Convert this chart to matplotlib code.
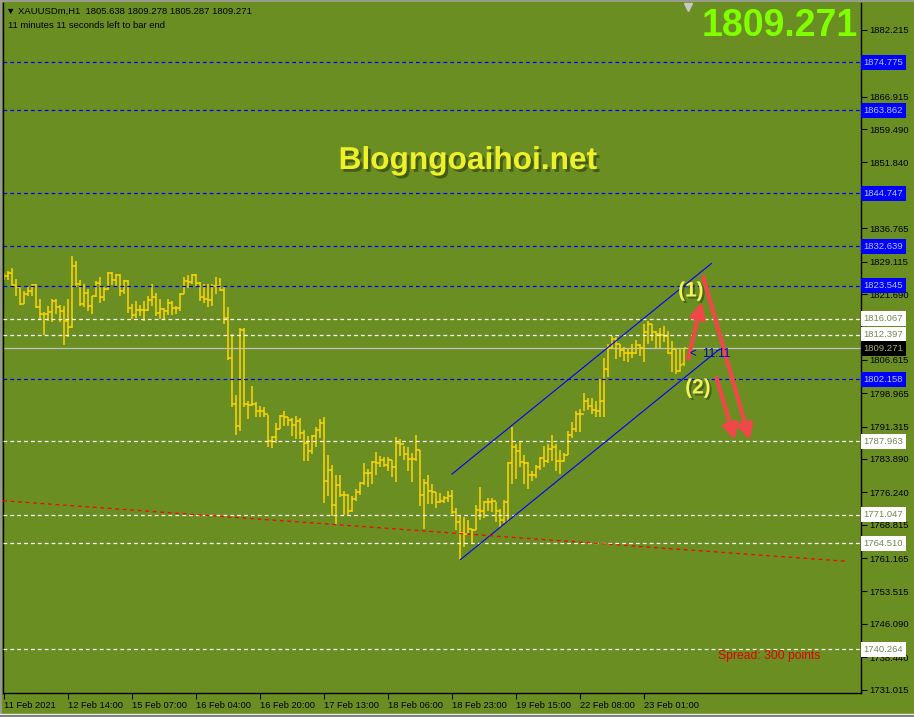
import numpy as np
import matplotlib
matplotlib.use("Agg")
import matplotlib.pyplot as plt
import matplotlib.patheffects as pe
from matplotlib.lines import Line2D
from matplotlib.transforms import blended_transform_factory

plt.rcParams['font.family'] = ['Liberation Sans', 'DejaVu Sans']

# H1 bars, XAUUSD, 11 Feb 2021 .. 23 Feb 2021
opens = [
    1825.4, 1825.8, 1826.5, 1823.7, 1823.3, 1819.4, 1821.6, 1822.4, 1823.7, 1818.6,
    1817.1, 1817.1, 1817.6, 1820.1, 1818.6, 1817.7, 1815.5, 1814.2, 1828.1, 1823.9,
    1819.4, 1822.0, 1819.0, 1821.3, 1824.3, 1820.9, 1822.8, 1826.6, 1824.8, 1826.1,
    1822.3, 1824.7, 1818.4, 1816.9, 1818.0, 1818.0, 1818.0, 1820.3, 1821.0, 1817.4,
    1818.2, 1817.8, 1819.7, 1818.4, 1818.4, 1821.6, 1824.7, 1824.5, 1826.1, 1824.3,
    1820.9, 1820.5, 1820.3, 1823.5, 1823.5, 1822.6, 1816.3, 1807.1, 1796.5, 1791.4,
    1813.4, 1796.5, 1796.3, 1796.5, 1794.9, 1794.9, 1794.2, 1788.1, 1789.0, 1790.7,
    1793.8, 1793.4, 1792.8, 1791.7, 1792.6, 1789.8, 1787.6, 1785.8, 1789.2, 1790.5,
    1792.1, 1778.9, 1781.4, 1773.4, 1777.8, 1775.6, 1775.7, 1772.0, 1774.6, 1776.2,
    1778.3, 1780.6, 1780.6, 1783.1, 1782.9, 1783.7, 1782.4, 1783.7, 1782.0, 1787.5,
    1787.2, 1785.0, 1783.9, 1783.9, 1785.9, 1775.7, 1778.3, 1776.5, 1776.3, 1774.0,
    1774.3, 1775.0, 1775.3, 1771.7, 1769.4, 1766.9, 1766.7, 1767.9, 1767.6, 1772.2,
    1772.0, 1774.0, 1774.1, 1774.3, 1772.0, 1769.8, 1774.0, 1782.9, 1786.7, 1785.8,
    1783.1, 1782.9, 1780.2, 1780.1, 1782.0, 1784.1, 1783.4, 1786.2, 1786.6, 1783.5,
    1783.5, 1784.7, 1789.4, 1790.7, 1794.3, 1794.3, 1797.2, 1796.1, 1795.1, 1794.9,
    1797.2, 1804.5, 1809.3, 1811.3, 1810.2, 1808.8, 1808.1, 1808.1, 1808.1, 1810.0,
    1809.3, 1812.9, 1814.9, 1812.9, 1812.5, 1812.3, 1812.1, 1808.1, 1809.0, 1804.1,
    1805.638]
highs = [
    1826.5, 1827.0, 1827.7, 1825.1, 1823.3, 1822.4, 1823.3, 1824.1, 1823.9, 1820.5,
    1817.6, 1819.0, 1820.5, 1820.5, 1819.2, 1819.0, 1820.5, 1830.4, 1829.3, 1824.8,
    1823.9, 1822.8, 1821.3, 1824.7, 1825.6, 1823.2, 1826.7, 1826.7, 1826.2, 1826.2,
    1824.8, 1824.8, 1819.5, 1820.1, 1819.2, 1820.0, 1821.3, 1823.9, 1822.0, 1820.5,
    1818.4, 1820.5, 1820.1, 1819.0, 1822.0, 1825.5, 1826.1, 1826.2, 1826.2, 1824.5,
    1823.9, 1823.9, 1823.9, 1825.5, 1825.3, 1823.3, 1818.6, 1812.6, 1798.6, 1814.0,
    1814.0, 1797.2, 1800.7, 1797.0, 1796.1, 1795.7, 1794.0, 1789.2, 1792.2, 1794.0,
    1794.9, 1793.6, 1793.3, 1793.8, 1793.3, 1790.5, 1789.2, 1789.4, 1791.1, 1793.0,
    1793.4, 1784.9, 1782.4, 1780.1, 1780.1, 1776.6, 1775.9, 1775.3, 1777.0, 1778.5,
    1782.9, 1781.6, 1783.5, 1785.4, 1784.6, 1784.3, 1784.4, 1783.7, 1788.8, 1788.5,
    1786.9, 1786.6, 1785.2, 1789.4, 1785.9, 1779.3, 1780.1, 1778.2, 1776.3, 1776.0,
    1775.5, 1776.6, 1776.8, 1772.7, 1770.9, 1770.5, 1769.8, 1767.9, 1773.4, 1777.4,
    1774.3, 1774.9, 1774.9, 1774.0, 1772.4, 1774.5, 1783.1, 1791.3, 1787.3, 1787.7,
    1784.9, 1783.1, 1781.2, 1782.6, 1784.3, 1786.9, 1787.3, 1789.4, 1787.3, 1785.9,
    1785.2, 1790.2, 1792.3, 1794.9, 1795.3, 1799.1, 1797.8, 1797.8, 1797.2, 1802.2,
    1807.1, 1810.2, 1812.1, 1811.9, 1810.3, 1809.6, 1809.4, 1810.2, 1811.1, 1810.3,
    1814.8, 1815.5, 1814.9, 1813.1, 1814.0, 1814.4, 1813.2, 1811.0, 1809.1, 1809.1,
    1809.278]
lows = [
    1824.8, 1824.8, 1823.5, 1821.3, 1819.1, 1819.4, 1821.3, 1821.3, 1818.4, 1815.9,
    1812.3, 1815.4, 1815.2, 1817.1, 1815.2, 1810.1, 1811.9, 1813.9, 1823.2, 1819.0,
    1818.6, 1817.8, 1817.1, 1820.9, 1819.7, 1820.1, 1822.7, 1823.7, 1823.3, 1821.3,
    1821.6, 1817.4, 1815.9, 1816.3, 1816.7, 1815.5, 1817.8, 1819.0, 1816.7, 1815.9,
    1815.9, 1816.9, 1816.9, 1817.1, 1817.8, 1821.6, 1823.0, 1823.9, 1823.5, 1820.1,
    1819.7, 1818.6, 1819.0, 1821.6, 1822.4, 1814.8, 1806.5, 1795.9, 1789.3, 1790.4,
    1795.9, 1793.0, 1796.1, 1793.4, 1793.6, 1793.4, 1786.6, 1786.4, 1787.5, 1790.7,
    1791.5, 1791.5, 1789.1, 1788.5, 1788.5, 1783.5, 1783.3, 1785.0, 1786.6, 1788.6,
    1773.7, 1775.3, 1770.7, 1769.0, 1775.1, 1771.1, 1771.1, 1771.7, 1774.3, 1775.7,
    1777.8, 1777.4, 1778.2, 1780.1, 1782.0, 1782.1, 1781.2, 1779.7, 1778.5, 1784.6,
    1783.7, 1781.2, 1778.5, 1783.5, 1773.2, 1767.9, 1773.6, 1773.6, 1772.7, 1773.7,
    1773.7, 1774.0, 1771.3, 1767.5, 1760.6, 1763.7, 1766.9, 1764.4, 1767.5, 1769.8,
    1770.4, 1771.9, 1771.7, 1769.4, 1768.2, 1769.2, 1769.4, 1778.2, 1779.3, 1782.0,
    1778.2, 1777.0, 1778.9, 1779.5, 1781.4, 1782.1, 1782.9, 1783.5, 1781.2, 1780.4,
    1783.1, 1784.7, 1788.7, 1790.0, 1790.0, 1794.9, 1795.1, 1794.3, 1793.4, 1793.4,
    1793.4, 1802.6, 1809.0, 1806.8, 1807.3, 1806.4, 1806.0, 1807.1, 1807.9, 1807.5,
    1806.0, 1810.3, 1811.0, 1809.4, 1809.4, 1810.6, 1807.9, 1803.7, 1803.3, 1803.7,
    1805.287]
closes = [
    1825.8, 1826.5, 1823.7, 1823.3, 1819.4, 1821.6, 1822.4, 1823.7, 1818.6, 1817.1,
    1817.1, 1817.6, 1820.1, 1818.6, 1817.7, 1815.5, 1814.2, 1828.1, 1823.9, 1819.4,
    1822.0, 1819.0, 1821.3, 1824.3, 1820.9, 1822.8, 1826.6, 1824.8, 1826.1, 1822.3,
    1824.7, 1818.4, 1816.9, 1818.0, 1818.0, 1818.0, 1820.3, 1821.0, 1817.4, 1818.2,
    1817.8, 1819.7, 1818.4, 1818.4, 1821.6, 1824.7, 1824.5, 1826.1, 1824.3, 1820.9,
    1820.5, 1820.3, 1823.5, 1823.5, 1822.6, 1816.3, 1807.1, 1796.5, 1791.4, 1813.4,
    1796.5, 1796.3, 1796.5, 1794.9, 1794.9, 1794.2, 1788.1, 1789.0, 1790.7, 1793.8,
    1793.4, 1792.8, 1791.7, 1792.6, 1789.8, 1787.6, 1785.8, 1789.2, 1790.5, 1792.1,
    1778.9, 1781.4, 1773.4, 1777.8, 1775.6, 1775.7, 1772.0, 1774.6, 1776.2, 1778.3,
    1780.6, 1780.6, 1783.1, 1782.9, 1783.7, 1782.4, 1783.7, 1782.0, 1787.5, 1787.2,
    1785.0, 1783.9, 1783.9, 1785.9, 1775.7, 1778.3, 1776.5, 1776.3, 1774.0, 1774.3,
    1775.0, 1775.3, 1771.7, 1769.4, 1766.9, 1766.7, 1767.9, 1767.6, 1772.2, 1772.0,
    1774.0, 1774.1, 1774.3, 1772.0, 1769.8, 1774.0, 1782.9, 1786.7, 1785.8, 1783.1,
    1782.9, 1780.2, 1780.1, 1782.0, 1784.1, 1783.4, 1786.2, 1786.6, 1783.5, 1783.5,
    1784.7, 1789.4, 1790.7, 1794.3, 1794.3, 1797.2, 1796.1, 1795.1, 1794.9, 1797.2,
    1804.5, 1809.3, 1811.3, 1810.2, 1808.8, 1808.1, 1808.1, 1808.1, 1810.0, 1809.3,
    1812.9, 1814.9, 1812.9, 1812.5, 1812.3, 1812.1, 1808.1, 1809.0, 1804.1, 1805.4,
    1809.271]

date_labels = ["11 Feb 2021", "12 Feb 14:00", "15 Feb 07:00", "16 Feb 04:00",
               "16 Feb 20:00", "17 Feb 13:00", "18 Feb 06:00", "18 Feb 23:00",
               "19 Feb 15:00", "22 Feb 08:00", "23 Feb 01:00"]
price_ticks = [1882.215, 1874.565, 1866.915, 1859.490, 1851.840, 1844.190, 1836.765,
               1829.115, 1821.690, 1814.040, 1806.615, 1798.965, 1791.315, 1783.890,
               1776.240, 1768.815, 1761.165, 1753.515, 1746.090, 1738.440, 1731.015]
# these tick labels sit under the level labels in the terminal
covered_ticks = [1874.565, 1844.190, 1814.040]

blue_levels = [1874.775, 1863.862, 1844.747, 1832.639, 1823.545, 1802.158]
white_levels = [1816.067, 1812.397, 1787.963, 1771.047, 1764.510, 1740.264]
bid = 1809.271

# trend channel / drawn objects (bar index, price)
chan_upper = [(111.9, 1780.4), (176.8, 1828.7)]
chan_lower = [(113.9, 1760.7), (178.9, 1809.1)]
red_trend = [(-0.3, 1774.3), (210.9, 1760.4)]
arrows = [((171.0, 1806.9), (174.35, 1819.9)),
          ((174.75, 1825.6), (186.4, 1788.2)),
          ((178.1, 1802.4), (182.7, 1788.2))]

BG = '#6B8E23'
W, H = 914, 717
fig = plt.figure(figsize=(W / 100, H / 100), dpi=100, facecolor=BG)
ax = fig.add_axes([3 / W, (H - 692.7) / H, 858 / W, 689.7 / H], facecolor=BG)

x = np.arange(len(closes))
bar_col = '#FFD700'
ax.vlines(x, lows, highs, color=bar_col, lw=1.1, zorder=2)
ax.hlines(opens, x - 0.5, x, color=bar_col, lw=1.1, zorder=2)
ax.hlines(closes, x, x + 0.5, color=bar_col, lw=1.1, zorder=2)

for lv in blue_levels:
    ax.axhline(lv, color='#0000FF', lw=0.9, ls=(0, (3, 2.5)), zorder=3)
for lv in white_levels:
    ax.axhline(lv, color='white', lw=0.9, ls=(0, (3, 2.5)), zorder=3)
ax.axhline(bid, color='#C0C0C0', lw=0.9, zorder=1)

ax.plot(*zip(*chan_upper), color='#0000FF', lw=0.8, zorder=3)
ax.plot(*zip(*chan_lower), color='#0000FF', lw=0.8, zorder=3)
ax.plot(*zip(*red_trend), color='red', lw=0.9, ls=(0, (3, 3)), zorder=3)

for (s, e) in arrows:
    ax.annotate('', xy=e, xytext=s,
                arrowprops=dict(arrowstyle='-|>,head_length=0.9,head_width=0.45',
                                color='#F04848', lw=3, shrinkA=0, shrinkB=0),
                zorder=6)

ax.set_xlim(-0.33, 214.2)
ax.set_ylim(1730.3, 1888.4)

# axes styling like the terminal
for side in ['left', 'right', 'bottom']:
    ax.spines[side].set_color('black')
    ax.spines[side].set_linewidth(1)
ax.spines['top'].set_visible(False)
ax.yaxis.tick_right()
ax.set_yticks(price_ticks)
ax.set_yticklabels(['' if t in covered_ticks else '%.3f' % t for t in price_ticks])
ax.tick_params(axis='y', direction='out', length=4, width=0.8, labelsize=6.8, pad=2)
ax.set_xticks(np.arange(len(date_labels)) * 16)
ax.set_xticklabels(date_labels)
ax.tick_params(axis='x', direction='out', length=4, width=0.8, labelsize=6.7, pad=2)
for lbl in ax.get_xticklabels():
    lbl.set_ha('left')

tr = blended_transform_factory(ax.transAxes, ax.transData)
level_boxes = [(blue_levels, '#0000FF', '#B8C8F0'),
               (white_levels, 'white', '#6E8A50'),
               ([bid], 'black', '#A8B070')]
for levels, fc, tc in level_boxes:
    for lv in levels:
        ax.text(1.003, lv, '%.3f' % lv, transform=tr, va='center', ha='left', fontsize=6.8,
                color=tc, zorder=10, clip_on=False,
                bbox=dict(boxstyle='square,pad=0.32', fc=fc, ec='none'))

# texts
fig.text(6 / W, 1 - 11 / H, '\u25BC XAUUSDm,H1  1805.638 1809.278 1805.287 1809.271',
         fontsize=6.8, va='center', ha='left', color='black')
fig.text(8 / W, 1 - 25 / H, '11 minutes 11 seconds left to bar end',
         fontsize=6.8, va='center', ha='left', color='black')
fig.text(858 / W, 1 - 26 / H, '1809.271', fontsize=27, fontweight='bold',
         color='#80FF00', ha='right', va='center')
fig.text(468 / W, 1 - 161 / H, 'Blogngoaihoi.net', fontsize=22.8, fontweight='bold',
         color='#EEF02A', ha='center', va='center',
         path_effects=[pe.withSimplePatchShadow(offset=(2, -2), shadow_rgbFace='#2A3A10', alpha=0.6)])
for txt, px, py in [('(1)', 691, 291), ('(2)', 698, 388)]:
    fig.text(px / W, 1 - py / H, txt, fontsize=15, fontweight='bold', color='#F2F25A',
             ha='center', va='center',
             path_effects=[pe.withSimplePatchShadow(offset=(1.5, -1.5), shadow_rgbFace='#2A3A10', alpha=0.5)])
fig.text(690 / W, 1 - 354 / H, '<  11:11', fontsize=8.3, color='#0000CD', ha='left', va='center')
fig.text(718 / W, 1 - 656 / H, 'Spread: 300 points', fontsize=8.7, color='#E00000',
         ha='left', va='center')
ax.plot([(688 - 3) / 858], [1 - 4 / 689.7], marker='v', color='#C8C8C8', ms=6,
        transform=ax.transAxes, clip_on=False)

# window frame of the terminal
fig.add_artist(Line2D([0, 1], [1 - 0.8 / H] * 2, transform=fig.transFigure, color='#A0A0A0', lw=1.2))
fig.add_artist(Line2D([0.8 / W] * 2, [0, 1], transform=fig.transFigure, color='#A0A0A0', lw=1.2))
fig.add_artist(Line2D([0, 1], [(H - 713.5) / H] * 2, transform=fig.transFigure, color='#F0F0F0', lw=1))
fig.add_artist(Line2D([0, 1], [(H - 715.5) / H] * 2, transform=fig.transFigure, color='#808080', lw=1.5))

fig.savefig('out.png', dpi=100, facecolor=BG)
